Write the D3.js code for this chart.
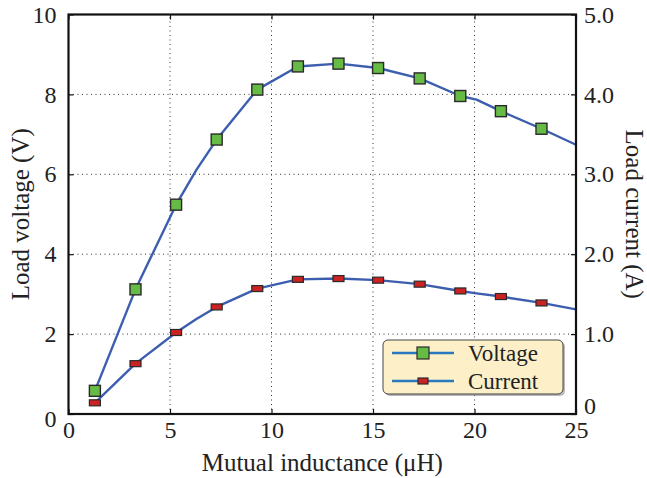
<!DOCTYPE html>
<html>
<head>
<meta charset="utf-8">
<script src="https://cdn.jsdelivr.net/npm/d3@7"></script>
<style>
  body { margin: 0; background: #fff; }
  text { font-family: "Liberation Serif", "Times New Roman", serif; fill: #222; }
</style>
</head>
<body>
<div id="chart"></div>
<script>
/* Load voltage & current vs mutual inductance */

// marker points
const mutual = [1.3, 3.3, 5.3, 7.3, 9.3, 11.3, 13.3, 15.25, 17.3, 19.3, 21.3, 23.3];
const voltage = [0.58, 3.12, 5.24, 6.87, 8.12, 8.70, 8.77, 8.66, 8.40, 7.96, 7.58, 7.14];
const current = [0.14, 0.63, 1.02, 1.34, 1.57, 1.685, 1.695, 1.675, 1.625, 1.54, 1.47, 1.39];

// line points (the drawn curve has a few more points than the markers)
const lineM = [1.3, 3.3, 5.3, 6.3, 7.3, 9.3, 11.3, 13.3, 15.25, 17.3, 19.3, 20.1, 21.3, 23.3, 25];
const lineV = [0.58, 3.12, 5.24, 6.11, 6.87, 8.12, 8.70, 8.77, 8.66, 8.40, 7.96, 7.87, 7.58, 7.14, 6.74];
const lineI = [0.14, 0.63, 1.02, 1.19, 1.34, 1.57, 1.685, 1.695, 1.675, 1.625, 1.54, 1.51, 1.47, 1.39, 1.31];

const xTicks = [0, 5, 10, 15, 20, 25];
const yTicks = [0, 2, 4, 6, 8, 10];
const y2Ticks = [0, 1, 2, 3, 4, 5];
const legendNames = ["Voltage", "Current"];

const width = 647, height = 478,
      margin = ({ top: 14.5, right: 71, bottom: 64, left: 68.5 });

let svg = d3.select("#chart")
    .append("svg")
    .attr("width", width)
    .attr("height", height);

let x = d3.scaleLinear()
    .domain([0, 25])
    .range([margin.left, width - margin.right]);

let y = d3.scaleLinear()
    .domain([0, 10])
    .range([height - margin.bottom, margin.top]);

let y2 = d3.scaleLinear()
    .domain([0, 5])
    .range([height - margin.bottom, margin.top]);

const x0 = x.range()[0], x1 = x.range()[1];
const yb = y.range()[0], yt = y.range()[1];

// grid
let grid = svg.append("g")
    .attr("stroke", "#333")
    .attr("stroke-width", 1)
    .attr("stroke-dasharray", "1,3.5");

grid.selectAll(".vg")
    .data(xTicks.slice(1, -1))
    .join("line")
    .attr("x1", d => x(d)).attr("x2", d => x(d))
    .attr("y1", yb).attr("y2", yt);

grid.selectAll(".hg")
    .data(yTicks.slice(1, -1))
    .join("line")
    .attr("x1", x0).attr("x2", x1)
    .attr("y1", d => y(d)).attr("y2", d => y(d));

// axes with inward ticks
let fmtR = d => d === 0 ? "0" : d3.format(".1f")(d);

let axB = svg.append("g")
    .attr("transform", `translate(0,${yb})`)
    .call(d3.axisBottom(x).tickValues(xTicks).tickSizeInner(-5).tickSizeOuter(0).tickPadding(11));
let axT = svg.append("g")
    .attr("transform", `translate(0,${yt})`)
    .call(d3.axisTop(x).tickValues(xTicks).tickSizeInner(-5).tickSizeOuter(0).tickFormat(""));
let axL = svg.append("g")
    .attr("transform", `translate(${x0},0)`)
    .call(d3.axisLeft(y).tickValues(yTicks).tickSizeInner(-5).tickSizeOuter(0).tickPadding(12));
let axR = svg.append("g")
    .attr("transform", `translate(${x1},0)`)
    .call(d3.axisRight(y2).tickValues(y2Ticks).tickSizeInner(-5).tickSizeOuter(0).tickPadding(8).tickFormat(fmtR));

[axB, axT, axL, axR].forEach(a => {
    a.select(".domain").remove();
    a.selectAll(".tick line").attr("stroke", "#111").attr("stroke-width", 1.2);
    a.selectAll(".tick text")
        .attr("font-family", "Liberation Serif, serif")
        .attr("font-size", 24)
        .attr("fill", "#222");
});
axB.selectAll(".tick text").attr("dy", "0.55em");
// the zero labels sit a little off the corner, as in the original
axR.selectAll(".tick text").filter(d => d === 0).attr("y", -8);
axL.selectAll(".tick text").filter(d => d === 0).attr("y", 5);

// curves
let line = d3.line().x(d => x(d[0])).y(d => d[1]);

const lineColor = "#3d5eae";

svg.append("path")
    .datum(lineM.map((m, i) => [m, y(lineV[i])]))
    .attr("fill", "none")
    .attr("stroke", lineColor)
    .attr("stroke-width", 2.4)
    .attr("stroke-linejoin", "round")
    .attr("d", line);

svg.append("path")
    .datum(lineM.map((m, i) => [m, y2(lineI[i])]))
    .attr("fill", "none")
    .attr("stroke", lineColor)
    .attr("stroke-width", 2.4)
    .attr("stroke-linejoin", "round")
    .attr("d", line);

// markers
svg.selectAll(".vm")
    .data(mutual.map((m, i) => ({ m, v: voltage[i] })))
    .join("rect")
    .attr("x", d => x(d.m) - 5.5)
    .attr("y", d => y(d.v) - 5.5)
    .attr("width", 11)
    .attr("height", 11)
    .attr("fill", "#66bb44")
    .attr("stroke", "#2a2a2a")
    .attr("stroke-width", 1.4);

svg.selectAll(".im")
    .data(mutual.map((m, i) => ({ m, c: current[i] })))
    .join("rect")
    .attr("x", d => x(d.m) - 5.5)
    .attr("y", d => y2(d.c) - 3)
    .attr("width", 11)
    .attr("height", 6)
    .attr("fill", "#cc2222")
    .attr("stroke", "#2a2a2a")
    .attr("stroke-width", 1.2);

// frame
svg.append("rect")
    .attr("x", x0).attr("y", yt)
    .attr("width", x1 - x0).attr("height", yb - yt)
    .attr("fill", "none")
    .attr("stroke", "#111")
    .attr("stroke-width", 2.2);

// axis titles
svg.append("text")
    .attr("x", (x0 + x1) / 2)
    .attr("y", 471)
    .attr("text-anchor", "middle")
    .attr("font-size", 25)
    .text("Mutual inductance (\u03bcH)");

svg.append("text")
    .attr("transform", `translate(29,${(yt + yb) / 2}) rotate(-90)`)
    .attr("text-anchor", "middle")
    .attr("font-size", 25)
    .text("Load voltage (V)");

svg.append("text")
    .attr("transform", `translate(626,${(yt + yb) / 2}) rotate(90)`)
    .attr("text-anchor", "middle")
    .attr("font-size", 25)
    .text("Load current (A)");

// legend
let lg = svg.append("g").attr("transform", "translate(383,340)");

lg.append("rect")
    .attr("x", 2).attr("y", 2)
    .attr("width", 180).attr("height", 54)
    .attr("rx", 5)
    .attr("fill", "#888")
    .attr("opacity", 0.6);
lg.append("rect")
    .attr("width", 180).attr("height", 54)
    .attr("rx", 5)
    .attr("fill", "#fdf0c9")
    .attr("stroke", "#444")
    .attr("stroke-width", 1);

let item = lg.selectAll(".item")
    .data(legendNames)
    .join("g")
    .attr("transform", (d, i) => `translate(0,${13 + i * 28})`);

item.append("line")
    .attr("x1", 9).attr("x2", 71)
    .attr("stroke", "#2a78c0")
    .attr("stroke-width", 2.4);

item.append("rect")
    .attr("x", (d, i) => i === 0 ? 34 : 35)
    .attr("y", (d, i) => i === 0 ? -6 : -3)
    .attr("width", (d, i) => i === 0 ? 12 : 10)
    .attr("height", (d, i) => i === 0 ? 12 : 6)
    .attr("fill", (d, i) => i === 0 ? "#66bb44" : "#cc2222")
    .attr("stroke", "#2a2a2a")
    .attr("stroke-width", 1.2);

item.append("text")
    .attr("x", 85)
    .attr("dy", "0.35em")
    .attr("font-size", 23)
    .text(d => d);
</script>
</body>
</html>
